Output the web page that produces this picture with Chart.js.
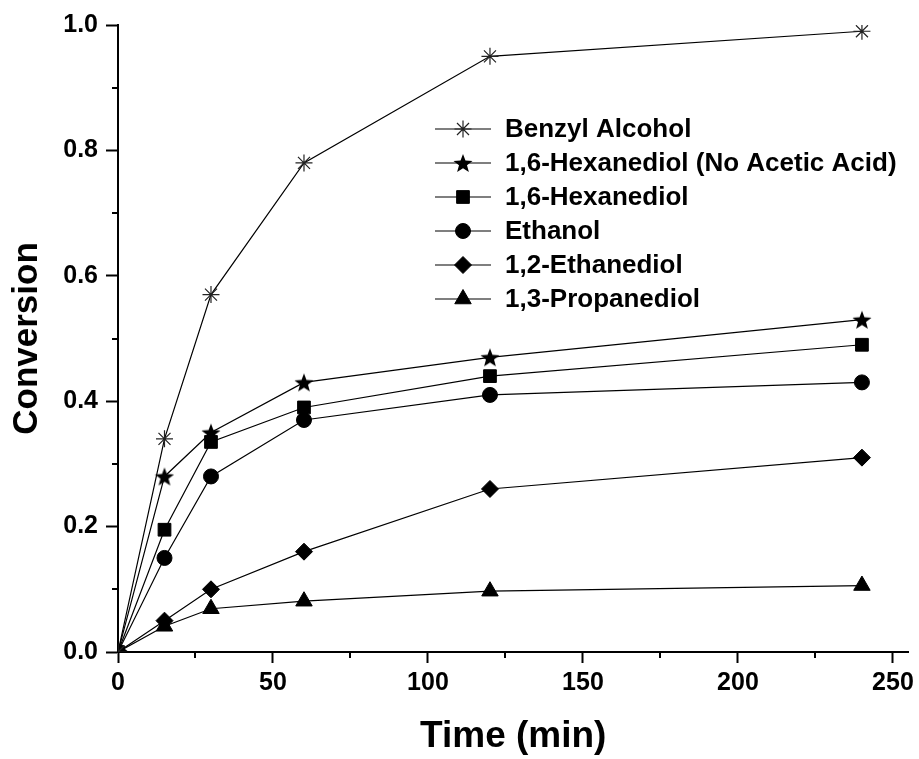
<!DOCTYPE html>
<html>
<head>
<meta charset="utf-8">
<script src="https://cdn.jsdelivr.net/npm/chart.js@4"></script>
<style>
  body { margin: 0; background: #fff; }
  canvas { display: block; }
</style>
</head>
<body>
<canvas id="chart" width="919" height="759"></canvas>
<script>
// data
const times = [0, 15, 30, 60, 120, 240];
const benzylAlcohol = [0, 0.34, 0.57, 0.78, 0.95, 0.99];
const hexanediolNoAcid = [0, 0.28, 0.35, 0.43, 0.47, 0.53];
const hexanediol = [0, 0.195, 0.335, 0.39, 0.44, 0.49];
const ethanol = [0, 0.15, 0.28, 0.37, 0.41, 0.43];
const ethanediol = [0, 0.05, 0.10, 0.16, 0.26, 0.31];
const propanediol = [0, 0.041, 0.069, 0.081, 0.097, 0.106];

const xMajor = [0, 50, 100, 150, 200, 250];
const xMinor = [25, 75, 125, 175, 225];
const yMajor = [0, 0.2, 0.4, 0.6, 0.8, 1.0];
const yMinor = [0.1, 0.3, 0.5, 0.7, 0.9];

const FONT = "'Liberation Sans', Arial, sans-serif";

// filled five point star marker
function makeStar(size) {
  const c = document.createElement("canvas");
  c.width = size;
  c.height = size;
  const g = c.getContext("2d");
  const R = size / 2, r = R * 0.42;
  const cx = size / 2, cy = size / 2 + R * 0.1;
  g.beginPath();
  for (let i = 0; i < 10; i++) {
    const a = -Math.PI / 2 + i * Math.PI / 5;
    const rr = i % 2 ? r : R;
    g.lineTo(cx + rr * Math.cos(a), cy + rr * Math.sin(a));
  }
  g.closePath();
  g.fillStyle = "#000";
  g.fill();
  return c;
}
const starImg = makeStar(20);

function series(label, values, style, radius, extra) {
  return Object.assign({
    label: label,
    data: times.map((t, i) => ({ x: t, y: values[i] })),
    borderColor: "#000",
    borderWidth: 1.2,
    pointStyle: style,
    pointRadius: radius,
    pointHoverRadius: radius,
    pointBackgroundColor: "#000",
    pointBorderColor: "#000",
    pointBorderWidth: 1,
    tension: 0,
  }, extra || {});
}

const datasets = [
  series("Benzyl Alcohol", benzylAlcohol, "star", 8.5, { pointBorderColor: "#222", pointBorderWidth: 1.2 }),
  series("1,6-Hexanediol (No Acetic Acid)", hexanediolNoAcid, starImg, 9),
  series("1,6-Hexanediol", hexanediol, "rect", 9),
  series("Ethanol", ethanol, "circle", 7.5),
  series("1,2-Ethanediol", ethanediol, "rectRot", 8.5),
  series("1,3-Propanediol", propanediol, "triangle", 9.5),
];

// minor ticks between the major ones
const minorTicks = {
  id: "minorTicks",
  afterDraw(chart) {
    const ctx = chart.ctx;
    const xs = chart.scales.x, ys = chart.scales.y;
    const area = chart.chartArea;
    ctx.save();
    ctx.strokeStyle = "#000";
    ctx.lineWidth = 2;
    ctx.beginPath();
    xMinor.forEach((v) => {
      const px = Math.round(xs.getPixelForValue(v));
      ctx.moveTo(px, area.bottom);
      ctx.lineTo(px, area.bottom + 6);
    });
    yMinor.forEach((v) => {
      const py = Math.round(ys.getPixelForValue(v));
      ctx.moveTo(area.left, py);
      ctx.lineTo(area.left - 6, py);
    });
    ctx.stroke();
    ctx.restore();
  },
};

// legend box inside the plot
const innerLegend = {
  id: "innerLegend",
  afterDraw(chart) {
    const ctx = chart.ctx;
    const area = chart.chartArea;
    const x0 = area.left + 317;
    const y0 = area.top + 104;
    const rowH = 34;
    ctx.save();
    ctx.font = "bold 26px " + FONT;
    ctx.textBaseline = "middle";
    ctx.textAlign = "left";
    chart.data.datasets.forEach((ds, i) => {
      const y = y0 + i * rowH;
      ctx.strokeStyle = "#000";
      ctx.lineWidth = 1.2;
      ctx.beginPath();
      ctx.moveTo(x0, y);
      ctx.lineTo(x0 + 56, y);
      ctx.stroke();
      ctx.fillStyle = ds.pointBackgroundColor;
      ctx.strokeStyle = ds.pointBorderColor;
      ctx.lineWidth = ds.pointBorderWidth;
      Chart.helpers.drawPoint(ctx, {
        pointStyle: ds.pointStyle,
        radius: ds.pointRadius,
        borderWidth: ds.pointBorderWidth,
        rotation: 0,
      }, x0 + 28, y);
      ctx.fillStyle = "#000";
      ctx.fillText(ds.label, x0 + 70, y + 1);
    });
    ctx.restore();
  },
};

Chart.defaults.color = "#000";

new Chart(document.getElementById("chart"), {
  type: "line",
  data: { datasets: datasets },
  plugins: [minorTicks, innerLegend],
  options: {
    responsive: false,
    animation: false,
    layout: { padding: { left: 0, top: 25, right: 9, bottom: 0 } },
    plugins: {
      legend: { display: false },
      tooltip: { enabled: false },
    },
    scales: {
      x: {
        type: "linear",
        min: 0,
        max: 255,
        afterFit: (s) => { s.height = 107; },
        afterBuildTicks: (s) => { s.ticks = xMajor.map((v) => ({ value: v })); },
        border: { color: "#000", width: 2 },
        grid: { drawOnChartArea: false, drawTicks: true, tickLength: 11, tickColor: "#000", tickWidth: 2 },
        ticks: {
          autoSkip: false,
          maxRotation: 0,
          padding: 5,
          font: { family: FONT, size: 25, weight: "bold" },
        },
        title: {
          display: true,
          text: "Time (min)",
          font: { family: FONT, size: 37, weight: "bold" },
          padding: { top: 0, bottom: 0 },
        },
      },
      y: {
        min: 0,
        max: 1,
        afterFit: (s) => { s.width = 118; },
        afterBuildTicks: (s) => { s.ticks = yMajor.map((v) => ({ value: v })); },
        border: { color: "#000", width: 2 },
        grid: { drawOnChartArea: false, drawTicks: true, tickLength: 12, tickColor: "#000", tickWidth: 2 },
        ticks: {
          autoSkip: false,
          padding: 8,
          font: { family: FONT, size: 25, weight: "bold" },
          callback: (v) => Number(v).toFixed(1),
        },
        title: {
          display: true,
          text: "Conversion",
          font: { family: FONT, size: 35, weight: "bold" },
          padding: { top: 6, bottom: 0 },
        },
      },
    },
  },
});
</script>
</body>
</html>
